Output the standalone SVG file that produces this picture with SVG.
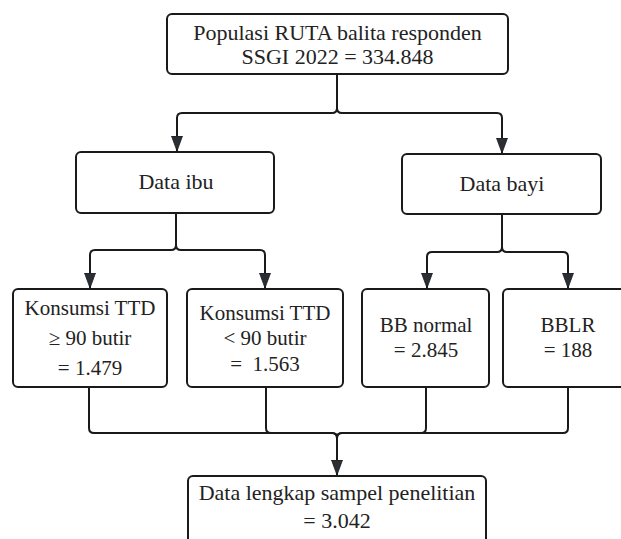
<svg xmlns="http://www.w3.org/2000/svg" width="621" height="539" viewBox="0 0 621 539">
<defs>
<marker id="arr" markerUnits="userSpaceOnUse" markerWidth="16" markerHeight="12" viewBox="0 0 16 12" refX="15" refY="6" orient="auto">
<path d="M0,0.5 L15,6 L0,11.5 Z" fill="#2a2e35" stroke="#1a1a1a" stroke-width="0.8"/>
</marker>
<style>
.box{fill:#fff;stroke:#1a1a1a;stroke-width:2}
.t{font-family:"Liberation Serif","Times New Roman",serif;font-size:22px;fill:#222;text-anchor:middle}
.s{font-size:21px}
.c{fill:none;stroke:#1a1a1a;stroke-width:2}
</style>
</defs>
<g id="connectors">
<path class="c" d="M337,74 V108 Q337,113 332,113 H182 Q177,113 177,118 V151" marker-end="url(#arr)"/>
<path class="c" d="M337,74 V108 Q337,113 342,113 H497 Q502,113 502,118 V153" marker-end="url(#arr)"/>
<path class="c" d="M176,213 V245 Q176,250 171,250 H95 Q90,250 90,255 V288" marker-end="url(#arr)"/>
<path class="c" d="M176,213 V245 Q176,250 181,250 H260 Q265,250 265,255 V288" marker-end="url(#arr)"/>
<path class="c" d="M502,214 V247 Q502,252 497,252 H432 Q427,252 427,257 V288" marker-end="url(#arr)"/>
<path class="c" d="M502,214 V247 Q502,252 507,252 H563 Q568,252 568,257 V288" marker-end="url(#arr)"/>
<path class="c" d="M89,387 V428 Q89,433 94,433 H332 Q337,433 337,438 V475" marker-end="url(#arr)"/>
<path class="c" d="M266,387 V428 Q266,433 271,433 H332 Q337,433 337,438"/>
<path class="c" d="M426,387 V428 Q426,433 421,433 H342 Q337,433 337,438"/>
<path class="c" d="M568,387 V428 Q568,433 563,433 H342 Q337,433 337,438"/>
</g>
<g id="n-populasi">
<rect class="box" x="167" y="14" width="341" height="60" rx="5"/>
<text class="t" x="337.5" y="40">Populasi RUTA balita responden</text>
<text class="t" x="337.5" y="64">SSGI 2022 = 334.848</text>
</g>
<g id="n-ibu">
<rect class="box" x="76" y="152" width="198" height="61" rx="5"/>
<text class="t" x="176" y="189">Data ibu</text>
</g>
<g id="n-bayi">
<rect class="box" x="402" y="154" width="199" height="60" rx="5"/>
<text class="t" x="502" y="191">Data bayi</text>
</g>
<g id="n-ttd90">
<rect class="box" x="13" y="289" width="154" height="98" rx="5"/>
<text class="t s" x="90" y="315">Konsumsi TTD</text>
<text class="t s" x="90" y="345">≥ 90 butir</text>
<text class="t s" x="90" y="375">= 1.479</text>
</g>
<g id="n-ttdlt90">
<rect class="box" x="187" y="289" width="156" height="98" rx="5"/>
<text class="t s" x="265" y="320">Konsumsi TTD</text>
<text class="t s" x="265" y="345">&lt; 90 butir</text>
<text class="t s" x="265" y="371" xml:space="preserve">=  1.563</text>
</g>
<g id="n-bbnormal">
<rect class="box" x="362" y="289" width="127" height="98" rx="5"/>
<text class="t s" x="426" y="332">BB normal</text>
<text class="t s" x="426" y="357">= 2.845</text>
</g>
<g id="n-bblr">
<rect class="box" x="503" y="289" width="130" height="98" rx="5"/>
<text class="t s" x="568" y="332">BBLR</text>
<text class="t s" x="568" y="357">= 188</text>
</g>
<g id="n-sampel">
<rect class="box" x="188" y="476" width="298" height="80" rx="5"/>
<text class="t" x="337" y="500">Data lengkap sampel penelitian</text>
<text class="t" x="337" y="528">= 3.042</text>
</g>
</svg>
